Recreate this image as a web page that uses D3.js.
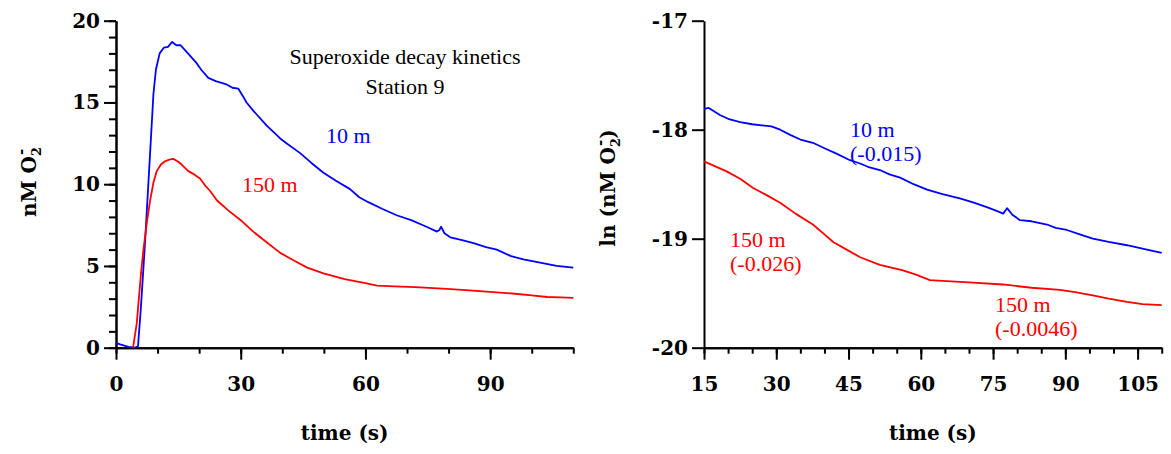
<!DOCTYPE html>
<html>
<head>
<meta charset="utf-8">
<script src="https://cdn.jsdelivr.net/npm/d3@7"></script>
<style>
  body { margin: 0; background: #fff; }
  .tick text { font-family: "DejaVu Serif", serif; font-weight: bold; font-size: 20px; fill: #000; }
  .axis path, .axis line { stroke: #000; stroke-width: 2px; }
  .atitle { font-family: "DejaVu Serif", serif; font-weight: bold; font-size: 20px; }
  .lbl { font-family: "Liberation Serif", "Times New Roman", serif; font-size: 22px; }
</style>
</head>
<body>
<div id="chart"></div>
<script>
// left panel: concentration (nM) vs time (s)
const t10 = [0, 1, 3, 4.5, 5.3, 6, 7, 8, 9, 9.6, 10.5, 11.5, 12.5, 13.5, 14.5, 15.5, 16.6, 18, 19.4, 20.5, 22.2, 24, 26.6, 28, 29.4, 30.5, 31.4, 33, 36.2, 39.5, 41, 44.3, 47, 49.9, 53, 56.3, 58.5, 60.7, 64, 67.5, 71, 74.7, 77.2, 77.8, 78.2, 79, 80.4, 83, 86, 89, 91.6, 95, 98, 102, 106, 110];
const c10 = [0.3, 0.2, 0.05, 0, 0.1, 2.5, 6.5, 11, 15.5, 17, 18.0, 18.35, 18.4, 18.7, 18.5, 18.5, 18.2, 17.8, 17.4, 17.0, 16.5, 16.3, 16.1, 15.9, 15.85, 15.4, 15.0, 14.5, 13.6, 12.8, 12.5, 11.9, 11.3, 10.7, 10.2, 9.7, 9.2, 8.9, 8.5, 8.1, 7.8, 7.4, 7.1, 7.2, 7.4, 7.0, 6.75, 6.6, 6.4, 6.15, 6.0, 5.6, 5.4, 5.2, 5.0, 4.9];

const t150 = [4.1, 5, 6, 6.6, 7.5, 8.2, 9, 9.8, 10.8, 11.8, 12.8, 13.8, 14.8, 15.8, 17.4, 18.8, 20.2, 21.5, 22.6, 24.3, 27, 30, 33, 36, 39.5, 43, 46, 49.9, 55, 60, 62.8, 67, 72, 79.6, 85, 90.7, 96, 100, 103.7, 107, 110];
const c150 = [0, 1.5, 4.5, 6.0, 7.8, 9.0, 10.1, 10.8, 11.2, 11.4, 11.5, 11.55, 11.4, 11.2, 10.8, 10.6, 10.35, 9.9, 9.6, 9.0, 8.4, 7.8, 7.1, 6.5, 5.8, 5.3, 4.9, 4.55, 4.2, 3.95, 3.8, 3.75, 3.7, 3.6, 3.5, 3.4, 3.3, 3.2, 3.1, 3.08, 3.05];

// right panel: ln(concentration) vs time (s)
const lt10 = [15, 16, 18.3, 20, 22.5, 25, 27, 29, 30.8, 33, 35, 37.6, 40, 42.5, 45.3, 47.4, 49, 51.5, 53.5, 55.7, 58.5, 61.3, 64.5, 68.1, 71, 73.7, 76, 77.1, 77.9, 79, 80.6, 83, 86.2, 88, 90.3, 93, 95.7, 99, 102.8, 106, 110];
const ln10 = [-17.81, -17.8, -17.865, -17.9, -17.93, -17.95, -17.96, -17.97, -18.0, -18.05, -18.09, -18.12, -18.17, -18.22, -18.28, -18.31, -18.34, -18.37, -18.41, -18.44, -18.5, -18.55, -18.59, -18.63, -18.67, -18.71, -18.75, -18.77, -18.72, -18.78, -18.83, -18.84, -18.87, -18.9, -18.92, -18.96, -19.0, -19.03, -19.06, -19.09, -19.13];

const lt150 = [15, 17, 19.8, 22.5, 25.2, 28, 30.8, 34, 37.6, 40, 41.8, 44.6, 47.4, 51.5, 56.3, 59, 61.9, 65.4, 70, 77, 83, 88.9, 92, 95.7, 99, 102.8, 106, 110];
const ln150 = [-18.29, -18.33, -18.385, -18.45, -18.535, -18.6, -18.67, -18.77, -18.87, -18.96, -19.03, -19.1, -19.17, -19.24, -19.29, -19.33, -19.38, -19.39, -19.4, -19.42, -19.45, -19.47, -19.49, -19.52, -19.55, -19.58, -19.6, -19.61];

const leftXTicks = [0, 30, 60, 90];
const leftYTicks = [0, 5, 10, 15, 20];
const rightXTicks = [15, 30, 45, 60, 75, 90, 105];
const rightYTicks = [-20, -19, -18, -17];

const W = 1171, H = 454;
const yTop = 20.7, yBot = 347.7;

const svg = d3.select("#chart").append("svg")
  .attr("width", W).attr("height", H);

function zip(a, b) { return a.map((v, i) => [v, b[i]]); }
const fmt = d => String(d); // plain hyphen minus, like the original

function panel(opt) {
  const x = d3.scaleLinear().domain(opt.xDomain).range(opt.xRange);
  const y = d3.scaleLinear().domain(opt.yDomain).range([yBot, yTop]);
  const g = svg.append("g");

  // minor ticks first, then major axis on top
  g.append("g").attr("class", "axis").attr("transform", "translate(0," + yBot + ")")
    .call(d3.axisBottom(x).tickValues(opt.xMinor).tickSize(6).tickSizeOuter(0).tickFormat(""));
  g.append("g").attr("class", "axis").attr("transform", "translate(0," + yBot + ")")
    .call(d3.axisBottom(x).tickValues(opt.xTicks).tickSize(12).tickSizeOuter(0).tickPadding(17).tickFormat(fmt));
  if (opt.yMinor.length) {
    g.append("g").attr("class", "axis").attr("transform", "translate(" + opt.xRange[0] + ",0)")
      .call(d3.axisLeft(y).tickValues(opt.yMinor).tickSize(7).tickSizeOuter(0).tickFormat(""));
  }
  g.append("g").attr("class", "axis").attr("transform", "translate(" + opt.xRange[0] + ",0)")
    .call(d3.axisLeft(y).tickValues(opt.yTicks).tickSize(12).tickSizeOuter(0).tickPadding(4).tickFormat(fmt));

  g.selectAll(".tick text").attr("fill", "#000");

  const line = d3.line().x(d => x(d[0])).y(d => y(d[1]));
  opt.series.forEach(s => {
    g.append("path").datum(s.data)
      .attr("fill", "none").attr("stroke", s.color).attr("stroke-width", 1.8)
      .attr("stroke-linejoin", "round").attr("d", line);
  });

  const cx = (opt.xRange[0] + opt.xRange[1]) / 2;
  g.append("text").attr("class", "atitle").attr("x", cx).attr("y", 440)
    .attr("text-anchor", "middle").text("time (s)");
  return g;
}

const gl = panel({
  xDomain: [0, 110], xRange: [116, 573.3], yDomain: [0, 20],
  xTicks: leftXTicks, xMinor: d3.range(0, 111, 10),
  yTicks: leftYTicks, yMinor: d3.range(0, 21, 1),
  series: [{data: zip(t10, c10), color: "#0000ff"}, {data: zip(t150, c150), color: "#ff0000"}]
});

const gr = panel({
  xDomain: [15, 110], xRange: [704, 1161.7], yDomain: [-20, -17],
  xTicks: rightXTicks, xMinor: d3.range(15, 111, 5),
  yTicks: rightYTicks, yMinor: [],
  series: [{data: zip(lt10, ln10), color: "#0000ff"}, {data: zip(lt150, ln150), color: "#ff0000"}]
});

// y axis titles
function yTitle(g, cx, cy, before, after) {
  const t = g.append("text").attr("class", "atitle")
    .attr("transform", "translate(" + cx + "," + cy + ") rotate(-90)")
    .attr("text-anchor", "middle");
  t.append("tspan").text(before);
  t.append("tspan").attr("font-size", 13).attr("dy", 5).text("2");
  t.append("tspan").attr("font-size", 15).attr("dx", -8).attr("dy", -15).text("-");
  if (after) t.append("tspan").attr("dx", 1).attr("dy", 10).text(after);
}
yTitle(gl, 36, 182, "nM O", "");
yTitle(gr, 615, 188, "ln (nM O", ")");

// annotations
const title = svg.append("text").attr("class", "lbl").attr("text-anchor", "middle")
  .style("font-size", "22px");
title.append("tspan").attr("x", 405).attr("y", 64).text("Superoxide decay kinetics");
title.append("tspan").attr("x", 405).attr("y", 94).text("Station 9");

function label(x, lines, color, y0) {
  const t = svg.append("text").attr("class", "lbl").attr("fill", color);
  lines.forEach((s, i) => t.append("tspan").attr("x", x).attr("y", y0 + i * 24).text(s));
}
label(326, ["10 m"], "#0000ff", 143);
label(242, ["150 m"], "#ff0000", 192);
label(850, ["10 m", "(-0.015)"], "#0000ff", 137);
label(730, ["150 m", "(-0.026)"], "#ff0000", 247);
label(995, ["150 m", "(-0.0046)"], "#ff0000", 312);
</script>
</body>
</html>
